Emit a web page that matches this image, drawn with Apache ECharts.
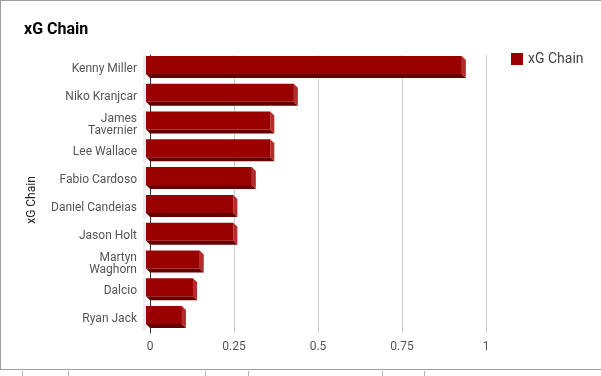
<!DOCTYPE html>
<html>
<head>
<meta charset="utf-8">
<script src="https://cdn.jsdelivr.net/npm/echarts@6/dist/echarts.min.js"></script>
<style>
  html, body { margin: 0; padding: 0; background: #fff; }
  #wrap { position: relative; width: 601px; height: 376px; }
  #chart { position: absolute; left: 0; top: 0; width: 601px; height: 376px; }
  #frame {
    position: absolute; left: 0; top: 0; width: 601px; height: 370px;
    border-left: 1px solid #9e9e9e; border-top: 1px solid #9e9e9e; border-bottom: 1px solid #9e9e9e;
    box-sizing: border-box; pointer-events: none;
  }
  .tick { position: absolute; top: 371px; width: 1px; height: 5px; background: #b0b0b0; }
</style>
</head>
<body>
<div id="wrap">
  <div id="chart"></div>
  <div id="frame"></div>
  <div class="tick" style="left:22px"></div>
  <div class="tick" style="left:68px"></div>
  <div class="tick" style="left:205px"></div>
  <div class="tick" style="left:248px"></div>
  <div class="tick" style="left:382px"></div>
  <div class="tick" style="left:424px"></div>
</div>
<script>
// players, top to bottom
const players = ['Kenny Miller', 'Niko Kranjcar', 'James\nTavernier', 'Lee Wallace', 'Fabio Cardoso',
  'Daniel Candeias', 'Jason Holt', 'Martyn\nWaghorn', 'Dalcio', 'Ryan Jack']
const xgChain = [0.94, 0.44, 0.37, 0.37, 0.315, 0.26, 0.26, 0.16, 0.14, 0.107]
const xTicks = [0, 0.25, 0.5, 0.75, 1]

const chart = echarts.init(document.getElementById('chart'))

// fake 3d bar: front face shifted up-left, side + bottom faces towards the back
function renderBar(params, api) {
  const ci = api.value(1)
  const start = api.coord([0, ci])
  const end = api.coord([api.value(0), ci])
  const d = 4
  const yc = start[1]
  const top = yc - 13, fb = yc + 5, bb = yc + 9
  const x0 = start[0], x1 = end[0]
  return {
    type: 'group',
    children: [
      // light back wall shadow on the left
      {
        type: 'rect',
        shape: { x: x0 - 7, y: top - 1, width: 3, height: bb - top + 3 },
        style: { fill: '#ececec' }
      },
      {
        type: 'polygon',
        shape: { points: [[x0 - d, fb], [x1 - d, fb], [x1, bb], [x0, bb]] },
        style: { fill: '#660000' }
      },
      {
        type: 'polygon',
        shape: { points: [[x1 - d, top], [x1, top + d], [x1, bb], [x1 - d, fb]] },
        style: { fill: '#b22c2c' }
      },
      {
        type: 'rect',
        shape: { x: x0 - d, y: top, width: x1 - x0, height: fb - top },
        style: { fill: '#990000' }
      }
    ]
  }
}

const option = {
  animation: false,
  textStyle: { fontFamily: 'Roboto' },
  title: {
    text: 'xG Chain',
    left: 19,
    top: 17,
    textStyle: { fontSize: 16, fontWeight: 'bold', color: '#000', fontFamily: 'Roboto' }
  },
  legend: {
    left: 506,
    top: 47,
    icon: 'rect',
    itemWidth: 12,
    itemHeight: 12,
    itemGap: 6,
    textStyle: { fontSize: 14, color: '#444', fontFamily: 'Roboto' },
    data: ['xG Chain']
  },
  grid: { left: 150, right: 115, top: 55, bottom: 43 },
  xAxis: {
    type: 'value',
    min: xTicks[0],
    max: xTicks[xTicks.length - 1],
    interval: 0.25,
    axisLine: { show: false },
    axisTick: { show: false },
    splitLine: { lineStyle: { color: '#cccccc', width: 1 } },
    axisLabel: { color: '#555', fontSize: 12, margin: 8, fontFamily: 'Roboto' }
  },
  yAxis: {
    type: 'category',
    inverse: true,
    data: players,
    name: 'xG Chain',
    nameLocation: 'middle',
    nameGap: 112,
    nameTextStyle: { color: '#222', fontSize: 12, fontFamily: 'Roboto', padding: [0, 12, 0, 0] },
    axisLine: { show: true, lineStyle: { color: '#333', width: 1 } },
    axisTick: { show: false },
    axisLabel: {
      color: '#555', fontSize: 12, margin: 13, lineHeight: 12,
      padding: [0, 0, 8, 0], fontFamily: 'Roboto'
    }
  },
  series: [
    {
      name: 'xG Chain',
      type: 'custom',
      renderItem: renderBar,
      clip: false,
      itemStyle: { color: '#990000' },
      encode: { x: 0, y: 1 },
      data: xgChain.map((v, i) => [v, i])
    }
  ]
}

chart.setOption(option)
</script>
</body>
</html>
